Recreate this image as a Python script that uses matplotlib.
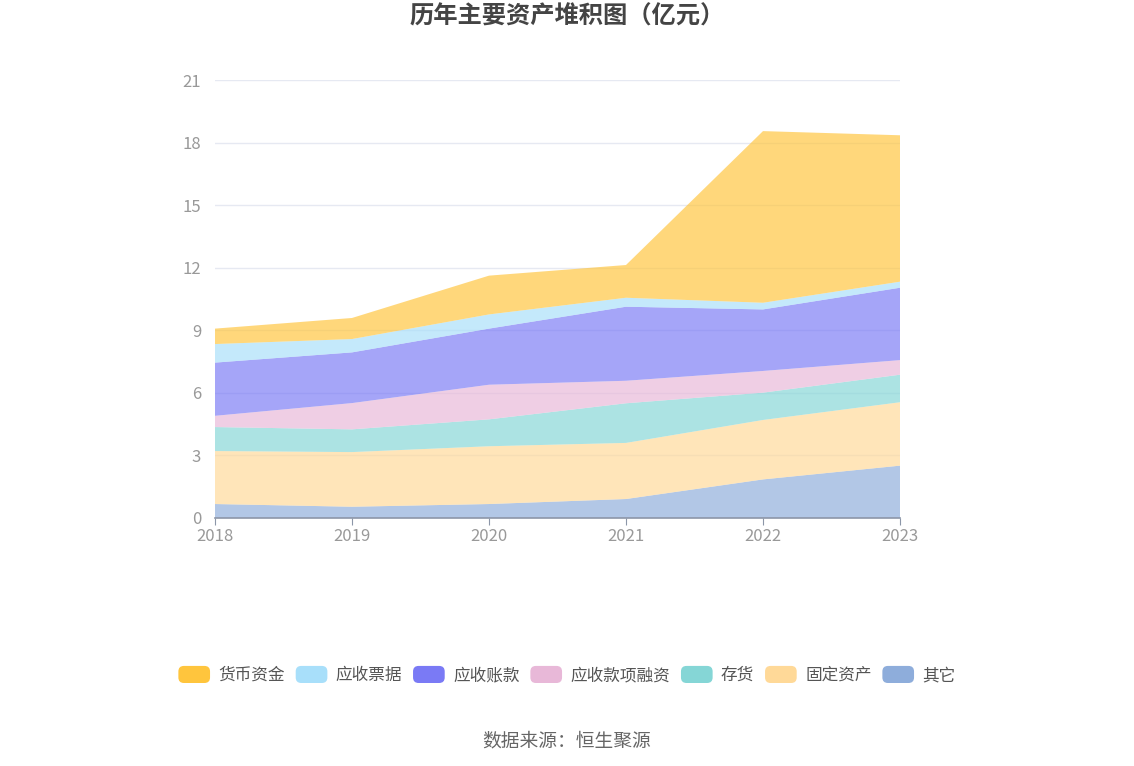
import matplotlib
matplotlib.use("Agg")
import matplotlib.pyplot as plt
from matplotlib.patches import FancyBboxPatch
from matplotlib.legend_handler import HandlerPatch

plt.rcParams['font.family'] = ['Noto Sans CJK SC', 'DejaVu Sans']

years = ['2018', '2019', '2020', '2021', '2022', '2023']

# bottom-up order of the stack
other = [0.67, 0.54, 0.67, 0.91, 1.85, 2.51]
fixed_assets = [2.54, 2.62, 2.77, 2.69, 2.85, 3.04]
inventory = [1.15, 1.09, 1.29, 1.90, 1.31, 1.32]
receivable_financing = [0.54, 1.26, 1.66, 1.08, 1.04, 0.70]
accounts_receivable = [2.55, 2.43, 2.69, 3.55, 2.95, 3.47]
notes_receivable = [0.89, 0.64, 0.68, 0.43, 0.32, 0.29]
cash = [0.74, 1.01, 1.86, 1.57, 8.23, 7.02]

series = [other, fixed_assets, inventory, receivable_financing,
          accounts_receivable, notes_receivable, cash]
names = ['其它', '固定资产', '存货', '应收款项融资', '应收账款', '应收票据', '货币资金']
colors = ['#8eaddb', '#ffd998', '#85d6d6', '#e8b8d8', '#7a7af5', '#a8dffa', '#ffc53d']

fig = plt.figure(figsize=(11.34, 7.66), dpi=100)
ax = fig.add_axes([215 / 1134, 248 / 766, 685 / 1134, 438 / 766])

x = list(range(len(years)))
ax.stackplot(x, *series, colors=colors, alpha=0.68, linewidth=0)

ax.set_xlim(0, len(years) - 1)
ax.set_ylim(0, 21)
ax.set_yticks(range(0, 22, 3))
ax.set_xticks(x)
ax.set_xticklabels(years)
ax.grid(axis='y', color='#e6e9f2', linewidth=1)
ax.set_axisbelow(True)
for s in ['top', 'right', 'left']:
    ax.spines[s].set_visible(False)
ax.spines['bottom'].set_color('#8c96a8')
ax.spines['bottom'].set_linewidth(1.2)
ax.tick_params(axis='y', length=0, labelsize=12, labelcolor='#999999', pad=10)
ax.tick_params(axis='x', length=5, color='#8c96a8', labelsize=12, labelcolor='#999999', pad=2)

fig.text(0.5, 1 - 17 / 766, '历年主要资产堆积图（亿元）', ha='center', va='center',
         fontsize=17.5, fontweight='bold', color='#444444')
fig.text(0.5, 1 - 741 / 766, '数据来源：恒生聚源', ha='center', va='center',
         fontsize=13.5, color='#666666')


class RoundHandler(HandlerPatch):
    def create_artists(self, legend, orig_handle, xdescent, ydescent,
                       width, height, fontsize, trans):
        p = FancyBboxPatch((-xdescent, -ydescent), width, height,
                           boxstyle='round,pad=0,rounding_size=4',
                           facecolor=orig_handle.get_facecolor(), edgecolor='none',
                           transform=trans)
        return [p]


order = list(reversed(range(len(names))))
handles = [plt.Rectangle((0, 0), 1, 1, facecolor=colors[i]) for i in order]
labels = [names[i] for i in order]
fig.legend(handles, labels, loc='center', bbox_to_anchor=(0.5, 1 - 675 / 766),
           ncol=7, frameon=False, fontsize=12, labelcolor='#555555',
           handlelength=1.9, handleheight=1.2, handletextpad=0.5, columnspacing=0.65,
           handler_map={plt.Rectangle: RoundHandler()})

fig.savefig('out.png', dpi=100)
